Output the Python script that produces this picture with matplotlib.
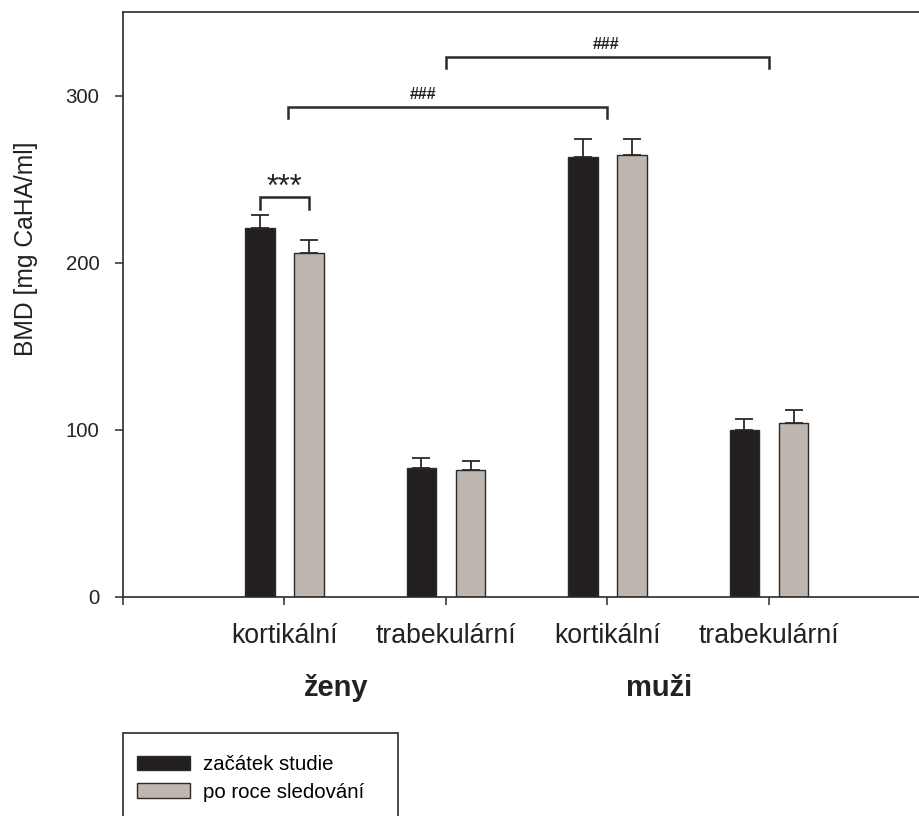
import matplotlib
matplotlib.use("Agg")
import matplotlib.pyplot as plt
from matplotlib.patches import Patch, Rectangle
import numpy as np

plt.rcParams['font.family'] = ['Liberation Sans', 'DejaVu Sans']

# Data
categories = ['kortikální', 'trabekulární', 'kortikální', 'trabekulární']
groups = ['ženy', 'muži']
series_names = ['začátek studie', 'po roce sledování']
baseline = [220.8, 77.4, 263.5, 100.0]
baseline_err = [7.9, 5.6, 10.8, 6.4]
followup = [205.6, 76.0, 264.5, 104.2]
followup_err = [8.2, 5.4, 9.8, 7.4]

c_dark = '#231f20'
c_grey = '#bfb6b0'
edge = '#2a2a2a'

fig = plt.figure(figsize=(9.2, 8.16), dpi=100)
ax = fig.add_axes([123 / 920, 1 - 597 / 816, 1 - 123 / 920, (597 - 12) / 816])

x = np.arange(1, len(categories) + 1)
off = 0.152
w = 0.183
ax.bar(x - off, baseline, w, color=c_dark, edgecolor=edge, linewidth=1.0, zorder=2)
ax.bar(x + off, followup, w, color=c_grey, edgecolor=edge, linewidth=1.0, zorder=2)
ax.errorbar(x - off, baseline, yerr=[np.zeros(4), baseline_err], fmt='none',
            ecolor=edge, elinewidth=1.3, capsize=6.4, capthick=1.3, zorder=1)
ax.errorbar(x + off, followup, yerr=[np.zeros(4), followup_err], fmt='none',
            ecolor=edge, elinewidth=1.3, capsize=6.4, capthick=1.3, zorder=1)

ax.set_xlim(0, (920 - 123) / 161.5)
ax.set_ylim(0, 350)
ax.set_xticks([0, 1, 2, 3, 4])
ax.set_xticklabels([''] + categories, fontsize=19.2, color='#222222')
ax.set_yticks([0, 100, 200, 300])
ax.set_yticklabels(['0', '100', '200', '300'], fontsize=14.7, color='#222222')
ax.tick_params(axis='x', direction='out', length=6, width=1.1, pad=12.5, color=edge)
ax.tick_params(axis='y', direction='out', length=6, width=1.1, pad=11, color=edge)
ax.spines['right'].set_visible(False)
for s in ['left', 'top', 'bottom']:
    ax.spines[s].set_linewidth(1.2)
    ax.spines[s].set_color(edge)

ax.set_ylabel('BMD [mg CaHA/ml]', fontsize=17.7, color='#222222')
ax.yaxis.set_label_coords(-0.107, 0.595)

# group labels under the category labels
trans = ax.get_xaxis_transform()
ax.text(1.32, -0.156, groups[0], transform=trans, ha='center', va='center',
        fontsize=21, fontweight='bold', color='#222222')
ax.text(3.32, -0.156, groups[1], transform=trans, ha='center', va='center',
        fontsize=21, fontweight='bold', color='#222222')

# significance brackets
def bracket(x0, x1, y, drop, label, lx, ly, size, weight):
    ax.plot([x0, x0, x1, x1], [y - drop, y, y, y - drop], color=edge,
            linewidth=1.8, solid_joinstyle='miter', clip_on=False, zorder=3)
    ax.text(lx, ly, label, ha='center', va='center', fontsize=size,
            fontweight=weight, color='#222222')

bracket(1 - off, 1 + off, 239.1, 6.8, '***', 1.0, 245.0, 22, 'normal')
bracket(1.02, 3.0, 293.4, 6.6, '###', 1.86, 300.6, 11.5, 'bold')
bracket(2.0, 4.0, 323.0, 6.6, '###', 2.99, 330.5, 11.5, 'bold')

# legend
handles = [Patch(facecolor=c_dark, edgecolor=edge, linewidth=1.0),
           Patch(facecolor=c_grey, edgecolor=edge, linewidth=1.0)]
fig.legend(handles, series_names, loc='upper left',
           bbox_to_anchor=(137 / 920, 1 - 755 / 816), frameon=False,
           fontsize=14.7, handlelength=2.6, handleheight=0.73,
           handletextpad=0.65, labelspacing=0.42, borderaxespad=0,
           borderpad=0)
fig.patches.append(Rectangle((123 / 920, -0.05), (398 - 123) / 920,
                             0.05 + 1 - 733 / 816, transform=fig.transFigure,
                             fill=False, edgecolor=edge, linewidth=1.2))

fig.savefig('out.png', dpi=100)
